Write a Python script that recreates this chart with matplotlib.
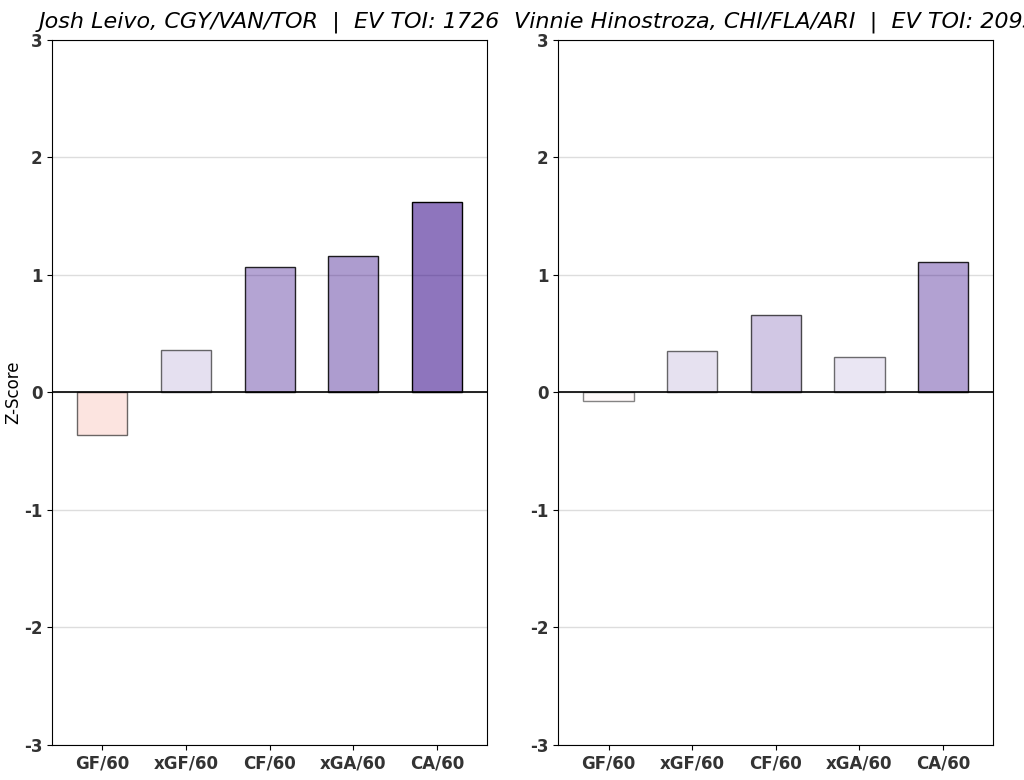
import numpy as np
import matplotlib.pyplot as plt

plt.rcParams["axes.unicode_minus"] = False

metrics = ["GF/60", "xGF/60", "CF/60", "xGA/60", "CA/60"]
titles = ["Josh Leivo, CGY/VAN/TOR  |  EV TOI: 1726",
          "Vinnie Hinostroza, CHI/FLA/ARI  |  EV TOI: 2093"]
leivo = [-0.36, 0.36, 1.07, 1.16, 1.62]
hinostroza = [-0.07, 0.35, 0.66, 0.30, 1.11]

POS = np.array([0.18, 0.0, 0.52])   # purple at full strength
NEG = np.array([0.93, 0.16, 0.0])   # red at full strength


def bar_colors(vals):
    faces, edges = [], []
    for v in vals:
        a = min(abs(v) / 3.0, 1.0)
        base = POS if v >= 0 else NEG
        faces.append((*base, a))
        edges.append((0, 0, 0, min(0.45 + a * 1.1, 1.0)))
    return faces, edges


fig, axes = plt.subplots(1, 2, figsize=(10.24, 7.8), dpi=100)
fig.subplots_adjust(left=0.051, right=0.970, top=0.949, bottom=0.045, wspace=0.164)

for ax, vals, title in zip(axes, [leivo, hinostroza], titles):
    x = np.arange(len(metrics))
    faces, edges = bar_colors(vals)
    ax.bar(x, vals, width=0.6, color=faces, edgecolor=edges, linewidth=1, zorder=3)
    ax.axhline(0, color="black", linewidth=1.2, zorder=4)
    ax.set_ylim(-3, 3)
    ax.set_xlim(-0.6, 4.6)
    ax.set_yticks(range(-3, 4))
    ax.set_xticks(x)
    ax.set_xticklabels(metrics)
    ax.grid(axis="y", color="#dddddd", linewidth=1, zorder=0)
    for lab in ax.get_xticklabels() + ax.get_yticklabels():
        lab.set_fontweight("bold")
        lab.set_fontsize(12)
        lab.set_color("#333333")
    ax.set_title(title, fontsize=16, style="italic", pad=9)

axes[0].set_ylabel("Z-Score", fontsize=12, labelpad=1)

plt.savefig("out.png", dpi=100)
